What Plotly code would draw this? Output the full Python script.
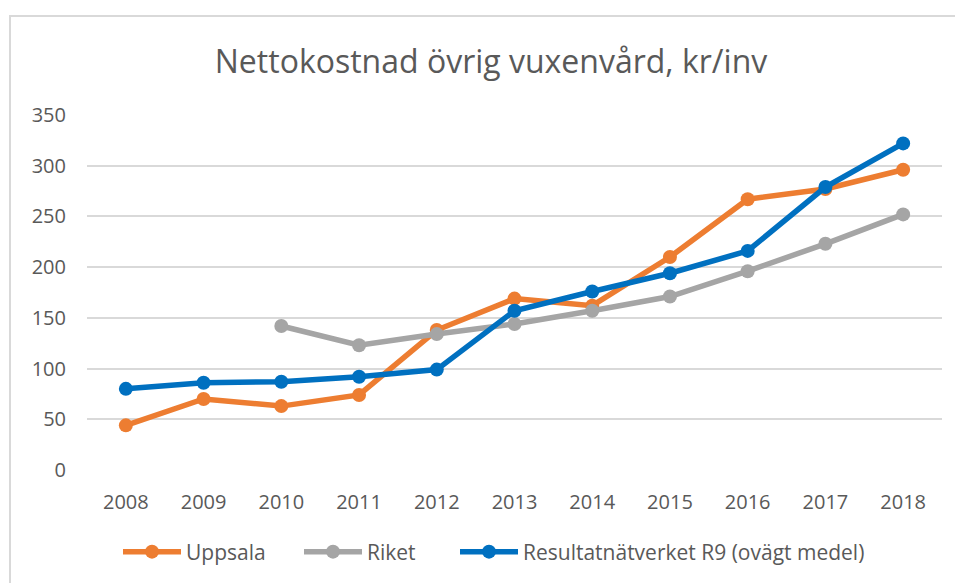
import plotly.graph_objects as go

years = ["2008", "2009", "2010", "2011", "2012", "2013", "2014", "2015", "2016", "2017", "2018"]
uppsala = [44, 70, 63, 74, 138, 169, 162, 210, 267, 277, 296]
riket = [None, None, 142, 123, 134, 144, 157, 171, 196, 223, 252]
r9 = [80, 86, 87, 92, 99, 157, 176, 194, 216, 279, 322]
y_ticks = [0, 50, 100, 150, 200, 250, 300, 350]

series = [
    ("Uppsala", uppsala, "#ED7D31"),
    ("Riket", riket, "#A5A5A5"),
    ("Resultatnätverket R9 (ovägt medel)", r9, "#0070C0"),
]

FONT = "Open Sans"
TXT = "#595959"

W, H = 955, 583
L, R, T, B = 87, 13, 115, 113
pw, ph = W - L - R, H - T - B

def px_x(p):
    return (p - L) / pw

def px_y(p):
    return (H - B - p) / ph

# left edge (pixels) of each legend item's line sample
legend_starts = [124, 305, 461]
legend_names = ["legend", "legend2", "legend3"]

fig = go.Figure()
for (name, vals, col), lg in zip(series, legend_names):
    fig.add_trace(go.Scatter(
        x=years, y=vals, name=name, mode="lines+markers",
        line=dict(color=col, width=5.5),
        marker=dict(color=col, size=14),
        connectgaps=False, legend=lg,
    ))

ITEMW = 58
legend_common = dict(orientation="h", yanchor="middle", xanchor="left",
                     font=dict(family=FONT, size=21, color=TXT),
                     itemwidth=ITEMW, bgcolor="rgba(0,0,0,0)")

layout_legends = {}
for lg, sx in zip(legend_names, legend_starts):
    layout_legends[lg] = dict(legend_common, x=px_x(sx - 6), y=px_y(552))

fig.update_layout(
    width=W, height=H,
    margin=dict(l=L, r=R, t=T, b=B, autoexpand=False),
    paper_bgcolor="white", plot_bgcolor="white",
    font=dict(family=FONT, color=TXT, size=20),
    title=dict(text="Nettokostnad övrig vuxenvård, kr/inv",
               x=491 / W, y=1 - 62 / H, xanchor="center", yanchor="middle",
               xref="container", yref="container",
               font=dict(family=FONT, size=32, color=TXT)),
    showlegend=True,
    xaxis=dict(type="category", range=[-0.5, len(years) - 0.5],
               showgrid=False, showline=False, zeroline=False,
               automargin=False,
               ticks="", tickfont=dict(size=20, color=TXT), ticklabelstandoff=18),
    yaxis=dict(range=[0, 350], tickvals=y_ticks, showgrid=True, gridcolor="#D9D9D9",
               gridwidth=1.5, zeroline=False, showline=False, ticks="",
               automargin=False,
               tickfont=dict(size=20, color=TXT), ticklabelstandoff=20),
    shapes=[dict(type="rect", xref="paper", yref="paper",
                 x0=px_x(10), x1=px_x(970), y0=px_y(600), y1=px_y(16),
                 line=dict(color="#D9D9D9", width=2), fillcolor="rgba(0,0,0,0)",
                 layer="below")],
    **layout_legends,
)

fig.write_html("out.html", config={"displayModeBar": False},
               post_script="document.body.style.margin='0';document.body.style.overflow='hidden';")
